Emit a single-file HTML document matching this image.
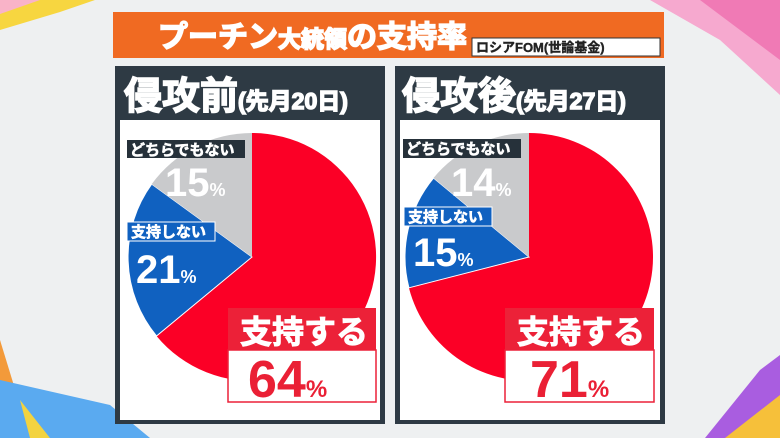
<!DOCTYPE html>
<html><head><meta charset="utf-8"><style>
html,body{margin:0;padding:0;width:780px;height:438px;overflow:hidden;background:#eceeef}
svg{display:block}
text{font-family:"Liberation Sans","Noto Sans CJK JP",sans-serif;font-weight:bold}
</style></head><body>
<svg width="780" height="438" viewBox="0 0 780 438" xmlns="http://www.w3.org/2000/svg">
<rect width="780" height="438" fill="#eef0f1"/>
<polygon points="0,0 95,0 60,12 0,30" fill="#f7d640"/>
<polygon points="0,0 40,0 0,14" fill="#f9b3c8"/>
<polygon points="650,0 780,0 780,95 720,40" fill="#f6a9cf"/>
<polygon points="700,0 780,0 780,60" fill="#f07ab5"/>
<polygon points="0,340 30,438 0,438" fill="#f39a3a"/>
<polygon points="0,380 110,405 150,438 0,438" fill="#5aaaf0"/>
<polygon points="20,400 50,438 30,438" fill="#f3d340"/>
<polygon points="705,438 760,370 780,355 780,438" fill="#a95de0"/>
<polygon points="725,438 780,395 780,438" fill="#f6c03a"/>
<rect x="113" y="12" width="551" height="46" fill="#f06a22"/>
<text x="158" y="47" font-size="30" fill="#fff" stroke="#fff" stroke-width="1.6">プーチン<tspan font-size="23">大統領</tspan>の支持率</text>
<rect x="472" y="38" width="188" height="18" fill="#fff" stroke="#333" stroke-width="1"/>
<text x="476" y="52" font-size="13" fill="#222" stroke="#222" stroke-width="0.4">ロシアFOM(世論基金)</text>
<rect x="115" y="66" width="270" height="358" fill="#2e3a44"/>
<rect x="120" y="120" width="260" height="300" fill="#fff"/>
<text x="124" y="109" font-size="38" fill="#fff" stroke="#fff" stroke-width="1.5">侵攻前<tspan font-size="23">(先月20日)</tspan></text>
<rect x="395" y="66" width="270" height="358" fill="#2e3a44"/>
<rect x="400" y="120" width="260" height="300" fill="#fff"/>
<text x="402" y="109" font-size="38" fill="#fff" stroke="#fff" stroke-width="1.5">侵攻後<tspan font-size="23">(先月27日)</tspan></text>
<path d="M252,257 L252,133 A124,124 0 1 1 156.5,336 Z" fill="#fb0026"/>
<path d="M252,257 L156.5,336 A124,124 0 0 1 151.7,184.1 Z" fill="#1061c0" stroke="#fff" stroke-width="1"/>
<path d="M252,257 L151.7,184.1 A124,124 0 0 1 252,133 Z" fill="#c9cacc"/>
<rect x="127" y="140" width="118" height="18" fill="#26313a"/>
<text x="130" y="155" font-size="15" fill="#fff" stroke="#fff" stroke-width="0.6">どちらでもない</text>
<text x="165" y="196" font-size="40" fill="#fff">15<tspan font-size="18">%</tspan></text>
<rect x="127" y="222" width="88" height="19" fill="#1061c0" stroke="#fff" stroke-width="1"/>
<text x="131" y="237" font-size="15" fill="#fff" stroke="#fff" stroke-width="0.6">支持しない</text>
<text x="136" y="283" font-size="40" fill="#fff">21<tspan font-size="18">%</tspan></text>
<rect x="228" y="308" width="148" height="42" fill="#ec2138"/>
<text x="240" y="343" font-size="32" fill="#fff" stroke="#fff" stroke-width="1">支持する</text>
<rect x="228" y="350" width="148" height="52" fill="#fff" stroke="#ec2138" stroke-width="1.5"/>
<text x="248" y="397" font-size="52" fill="#ea2035">64<tspan font-size="24">%</tspan></text>
<path d="M529,257 L529,133 A124,124 0 1 1 408.9,287.8 Z" fill="#fb0026"/>
<path d="M529,257 L408.9,287.8 A124,124 0 0 1 433.5,178 Z" fill="#1061c0" stroke="#fff" stroke-width="1"/>
<path d="M529,257 L433.5,178 A124,124 0 0 1 529,133 Z" fill="#c9cacc"/>
<rect x="403" y="139" width="118" height="19" fill="#26313a"/>
<text x="406" y="154" font-size="15" fill="#fff" stroke="#fff" stroke-width="0.6">どちらでもない</text>
<text x="451" y="196" font-size="40" fill="#fff">14<tspan font-size="18">%</tspan></text>
<rect x="404" y="207" width="88" height="19" fill="#1061c0" stroke="#fff" stroke-width="1"/>
<text x="408" y="222" font-size="15" fill="#fff" stroke="#fff" stroke-width="0.6">支持しない</text>
<text x="413" y="266" font-size="40" fill="#fff">15<tspan font-size="18">%</tspan></text>
<rect x="505" y="308" width="149" height="42" fill="#ec2138"/>
<text x="517" y="343" font-size="32" fill="#fff" stroke="#fff" stroke-width="1">支持する</text>
<rect x="505" y="350" width="149" height="52" fill="#fff" stroke="#ec2138" stroke-width="1.5"/>
<text x="530" y="397" font-size="52" fill="#ea2035">71<tspan font-size="24">%</tspan></text>
</svg>
</body></html>
